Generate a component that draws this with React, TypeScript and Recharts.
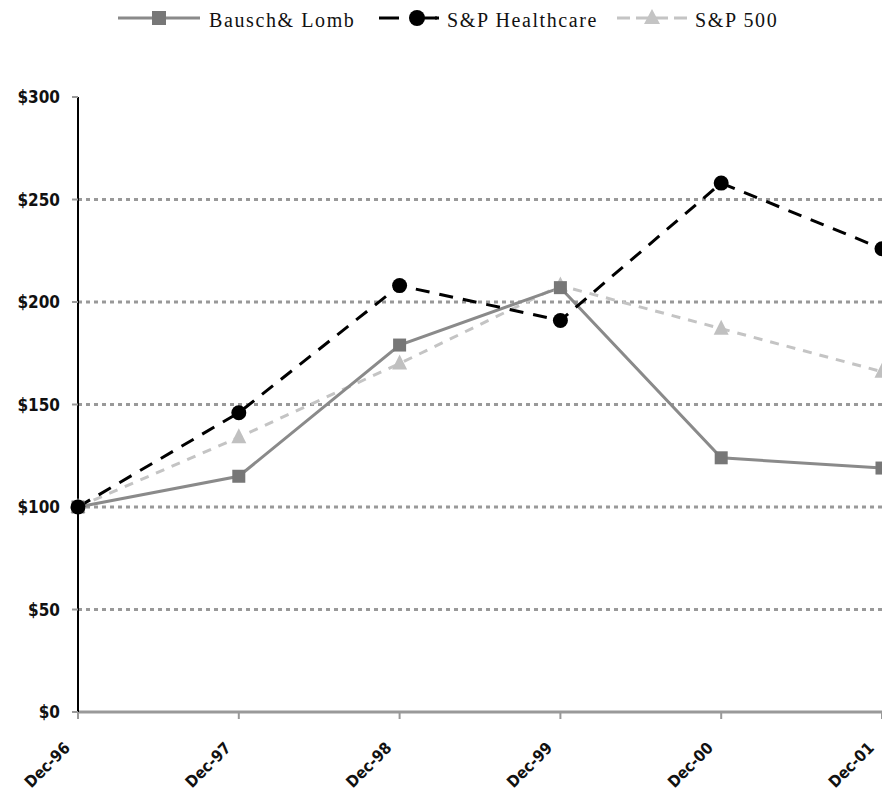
import { LineChart, Line, XAxis, YAxis, CartesianGrid } from "recharts";

const years = ["Dec-96", "Dec-97", "Dec-98", "Dec-99", "Dec-00", "Dec-01"];
const bauschLomb = [100, 115, 179, 207, 124, 119];
const spHealthcare = [100, 146, 208, 191, 258, 226];
const sp500 = [100, 134, 170, 208, 187, 166];
const yTicks = [0, 50, 100, 150, 200, 250, 300];
const gridValues = [50, 100, 150, 200, 250];

const data = years.map((year, i) => ({
  year,
  bl: bauschLomb[i],
  hc: spHealthcare[i],
  sp: sp500[i],
}));

const axisFont = '"Liberation Sans Narrow", "Arial Narrow", "DejaVu Sans Condensed", sans-serif';
const serifFont = '"Liberation Serif", "Times New Roman", serif';

// marker shapes for the three series
const marker = (kind: string, fill: string, size: number) => (props: any) => {
  const { cx, cy, index } = props;
  if (cx == null || cy == null) return <g key={index} />;
  if (kind === "square")
    return (
      <rect key={index} x={cx - size / 2} y={cy - size / 2} width={size} height={size} fill={fill} />
    );
  if (kind === "triangle")
    return (
      <polygon
        key={index}
        points={`${cx},${cy - size * 0.6} ${cx - size / 2},${cy + size * 0.4} ${cx + size / 2},${cy + size * 0.4}`}
        fill={fill}
      />
    );
  return <circle key={index} cx={cx} cy={cy} r={size / 2} fill={fill} />;
};

const XTick = ({ x, y, payload }: any) => (
  <g transform={`translate(${x - 7},${y + 28})`}>
    <text
      textAnchor="end"
      transform="rotate(-45)"
      fontSize={16}
      fontWeight="bold"
      fill="#111"
      fontFamily={axisFont}
    >
      {payload.value}
    </text>
  </g>
);

const legendItems = [
  { name: "Bausch& Lomb", color: "#8a8a8a", kind: "square", dash: "", x: 118, w: 82, tx: 209 },
  { name: "S&P Healthcare", color: "#000", kind: "circle", dash: "20 36", x: 379, w: 60, tx: 447 },
  { name: "S&P 500", color: "#c4c4c4", kind: "triangle", dash: "13 6", x: 617, w: 70, tx: 695 },
];

function LegendIcon({ item }: { item: (typeof legendItems)[number] }) {
  const h = 20;
  const c = item.w / 2;
  return (
    <svg
      width={item.w}
      height={h}
      style={{ position: "absolute", left: item.x, top: 8 }}
    >
      <line x1={0} y1={h / 2} x2={item.w} y2={h / 2} stroke={item.color} strokeWidth={3} strokeDasharray={item.dash} />
      {item.kind === "square" && <rect x={c - 7} y={h / 2 - 7} width={14} height={14} fill="#777" />}
      {item.kind === "circle" && (
        <>
          <circle cx={c + 8} cy={h / 2} r={8} fill="#000" />
          <line x1={c + 10} y1={h / 2} x2={item.w - 2} y2={h / 2} stroke="#000" strokeWidth={3} />
        </>
      )}
      {item.kind === "triangle" && (
        <polygon points={`${c},${h / 2 - 9} ${c - 8},${h / 2 + 6} ${c + 8},${h / 2 + 6}`} fill={item.color} />
      )}
    </svg>
  );
}

export default function App() {
  return (
    <div
      style={{
        position: "absolute",
        left: 0,
        top: 0,
        width: 882,
        height: 796,
        overflow: "hidden",
        background: "#fff",
      }}
    >
      {legendItems.map((item) => (
        <div key={item.name}>
          <LegendIcon item={item} />
          <span
            style={{
              position: "absolute",
              left: item.tx,
              top: 8,
              fontFamily: serifFont,
              fontSize: 20,
              letterSpacing: 1.6,
              lineHeight: "24px",
              color: "#111",
              whiteSpace: "nowrap",
            }}
          >
            {item.name}
          </span>
        </div>
      ))}
      <LineChart width={882} height={796} data={data} margin={{ top: 97, right: 0, bottom: 0, left: 0 }}>
        <CartesianGrid
          vertical={false}
          horizontalValues={gridValues}
          stroke="#999"
          strokeWidth={3}
          strokeDasharray="4 4"
        />
        <XAxis
          dataKey="year"
          interval={0}
          height={84}
          axisLine={{ stroke: "#999", strokeWidth: 3 }}
          tickLine={{ stroke: "#999", strokeWidth: 2 }}
          tickSize={7}
          tick={<XTick />}
        />
        <YAxis
          domain={[0, 300]}
          ticks={yTicks}
          width={78}
          interval={0}
          axisLine={{ stroke: "#000", strokeWidth: 2 }}
          tickLine={{ stroke: "#999", strokeWidth: 2 }}
          tickSize={6}
          tickMargin={12}
          tickFormatter={(v: number) => `$${v}`}
          tick={{ fontSize: 17, fontWeight: "bold", fill: "#111", fontFamily: axisFont }}
        />
        <Line
          dataKey="sp"
          stroke="#c4c4c4"
          strokeWidth={3}
          strokeDasharray="9 8"
          dot={marker("triangle", "#c0c0c0", 15)}
          isAnimationActive={false}
        />
        <Line
          dataKey="bl"
          stroke="#8a8a8a"
          strokeWidth={3}
          dot={marker("square", "#777", 13)}
          isAnimationActive={false}
        />
        <Line
          dataKey="hc"
          stroke="#000"
          strokeWidth={3}
          strokeDasharray="14 10"
          dot={marker("circle", "#000", 15)}
          isAnimationActive={false}
        />
      </LineChart>
    </div>
  );
}
